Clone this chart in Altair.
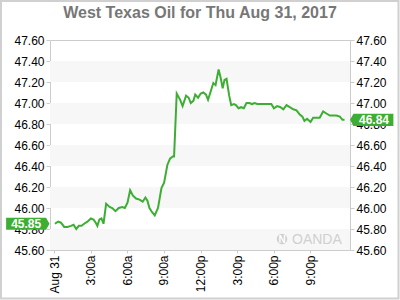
import json
import altair as alt
import pandas as pd

title_text = "West Texas Oil for Thu Aug 31, 2017"

# minutes since midnight Aug 31 and price
minutes = [4, 20, 34, 50, 66, 83, 96, 109, 122, 135, 148, 164, 181, 194, 205, 213, 223, 233, 243,
           256, 273, 286, 302, 318, 335, 348, 361, 374, 387, 403, 420, 436, 449, 459, 469, 482, 495,
           511, 528, 541, 557, 570, 583, 590, 603, 620, 632, 649, 662, 672, 685, 694, 708, 721, 734,
           747, 757, 770, 783, 794, 809, 819, 829, 838, 848, 861, 871, 884, 894, 907, 920, 933, 946,
           960, 973, 986, 999, 1032, 1068, 1081, 1097, 1113, 1127, 1143, 1159, 1176, 1192, 1208, 1221,
           1231, 1244, 1261, 1274, 1290, 1306, 1323, 1339, 1356, 1372, 1388, 1405, 1418, 1428]
prices = [45.85, 45.87, 45.86, 45.82, 45.82, 45.83, 45.84, 45.80, 45.83, 45.83, 45.85, 45.87, 45.90,
          45.89, 45.86, 45.83, 45.89, 45.90, 45.85,
          46.04, 46.01, 46.00, 45.97, 46.00, 46.01, 46.00, 46.05, 46.17, 46.12, 46.09, 46.08, 46.06,
          46.10, 46.07, 46.00, 45.96, 45.93,
          46.00, 46.19, 46.24, 46.41, 46.47, 46.49, 46.49, 47.09, 47.03, 46.97, 47.07, 47.05, 47.00,
          47.02, 47.08, 47.05, 47.09, 47.10,
          47.08, 47.03, 47.11, 47.19, 47.17, 47.32, 47.24, 47.14, 47.22, 47.23, 47.07, 46.98, 46.99,
          46.98, 46.95, 46.96, 46.95, 47.00,
          47.00, 46.99, 47.00, 46.99, 46.99, 46.99, 46.95, 46.97, 46.96, 46.94, 46.98, 46.96, 46.94,
          46.93, 46.89, 46.87,
          46.83, 46.85, 46.82, 46.86, 46.86, 46.86, 46.92, 46.90, 46.88, 46.88, 46.88, 46.87, 46.84,
          46.84]

tick_minutes = [0, 180, 360, 540, 720, 900, 1080, 1260]
tick_labels = ["Aug 31", "3:00a", "6:00a", "9:00a", "12:00p", "3:00p", "6:00p", "9:00p"]
y_ticks = [45.6, 45.8, 46.0, 46.2, 46.4, 46.6, 46.8, 47.0, 47.2, 47.4, 47.6]
band_lo = [45.6, 46.0, 46.4, 46.8, 47.2]
band_hi = [45.8, 46.2, 46.6, 47.0, 47.4]
watermark = "OANDA"

GREEN = "#3dae33"
FONT = "Liberation Sans"

xs = alt.Scale(domain=[-20, 1455], nice=False, zero=False)
ys = alt.Scale(domain=[45.6, 47.6], nice=False, zero=False)

df = pd.DataFrame({"minute": minutes, "price": prices})
bands_df = pd.DataFrame({"lo": band_lo, "hi": band_hi})
first_df = pd.DataFrame({"price": [prices[0]], "label": [f"{prices[0]:.2f}"]})
last_df = pd.DataFrame({"price": [prices[-1]], "label": [f"{prices[-1]:.2f}"]})
one = pd.DataFrame({"a": [0]})

label_expr = json.dumps(tick_labels) + "[datum.value / 180]"

bands = alt.Chart(bands_df).mark_rect(color="#f7f7f7").encode(
    y=alt.Y("lo:Q", scale=ys, axis=None), y2="hi:Q")

line = alt.Chart(df).mark_line(color=GREEN, strokeWidth=2).encode(
    x=alt.X("minute:Q", scale=xs,
            axis=alt.Axis(values=tick_minutes, labelExpr=label_expr, labelAngle=270,
                          title=None, grid=False, tickSize=3, labelPadding=2)),
    y=alt.Y("price:Q", scale=ys,
            axis=alt.Axis(values=y_ticks, format=".2f", orient="left", title=None,
                          grid=False, tickSize=4, labelPadding=2)))

LEFT_PATH = "M-1,-0.28L0.84,-0.28L1,0L0.84,0.28L-1,0.28Z"
RIGHT_PATH = "M1,-0.28L-0.84,-0.28L-1,0L-0.84,0.28L1,0.28Z"

left_box = alt.Chart(first_df).mark_point(
    shape=LEFT_PATH, filled=True, size=1884, color=GREEN, opacity=1).encode(
    x=alt.value(-22.2), y=alt.Y("price:Q", scale=ys, axis=None))
left_text = alt.Chart(first_df).mark_text(
    color="white", fontWeight="bold", fontSize=12, font=FONT, align="center", baseline="middle").encode(
    x=alt.value(-23.8), y=alt.Y("price:Q", scale=ys, axis=None), text="label:N")

right_box = alt.Chart(last_df).mark_point(
    shape=RIGHT_PATH, filled=True, size=1884, color=GREEN, opacity=1).encode(
    x=alt.value(321.7),
    y=alt.Y("price:Q", scale=ys,
            axis=alt.Axis(values=y_ticks, format=".2f", orient="right", title=None,
                          grid=False, tickSize=4, labelPadding=2)))
right_text = alt.Chart(last_df).mark_text(
    color="white", fontWeight="bold", fontSize=12, font=FONT, align="center", baseline="middle").encode(
    x=alt.value(324), y=alt.Y("price:Q", scale=ys, axis=None), text="label:N")

title = alt.Chart(pd.DataFrame({"t": [title_text]})).mark_text(
    fontSize=16, fontWeight="bold", font=FONT, color="#777777", align="center",
    baseline="alphabetic").encode(x=alt.value(150), y=alt.value(-22.5), text="t:N")

logo = alt.Chart(one).mark_point(shape="circle", filled=True, size=110, color="#cfcfcf", opacity=1).encode(
    x=alt.value(232), y=alt.value(199))
logo_n = alt.Chart(pd.DataFrame({"t": ["N"]})).mark_text(
    fontSize=10, fontWeight="bold", font=FONT, color="white", align="center", baseline="middle").encode(
    x=alt.value(232), y=alt.value(199.5), text="t:N")
wm = alt.Chart(pd.DataFrame({"t": [watermark]})).mark_text(
    fontSize=14, font=FONT, color="#d0d0d0", align="left", baseline="middle").encode(
    x=alt.value(242), y=alt.value(199.5), text="t:N")

border = alt.Chart(one).mark_rect(fillOpacity=0, stroke="#d0d0d0", strokeWidth=2).encode(
    x=alt.value(-49), x2=alt.value(348.5), y=alt.value(-39), y2=alt.value(258.5))

chart = alt.layer(
    bands, logo, logo_n, wm, line, left_box, left_text, right_box, right_text, title, border
).resolve_scale(y="independent").resolve_axis(y="independent").properties(
    width=300, height=210,
    autosize=alt.AutoSizeParams(type="none"),
    padding={"left": 50, "top": 40, "right": 50, "bottom": 50},
    background="white",
).configure_view(stroke="#cccccc", strokeWidth=1).configure_axis(
    domain=False, tickColor="#cccccc", labelFont=FONT, labelFontSize=12, labelColor="#000000")

chart.save("out.html", embed_options={"renderer": "svg", "actions": False})
